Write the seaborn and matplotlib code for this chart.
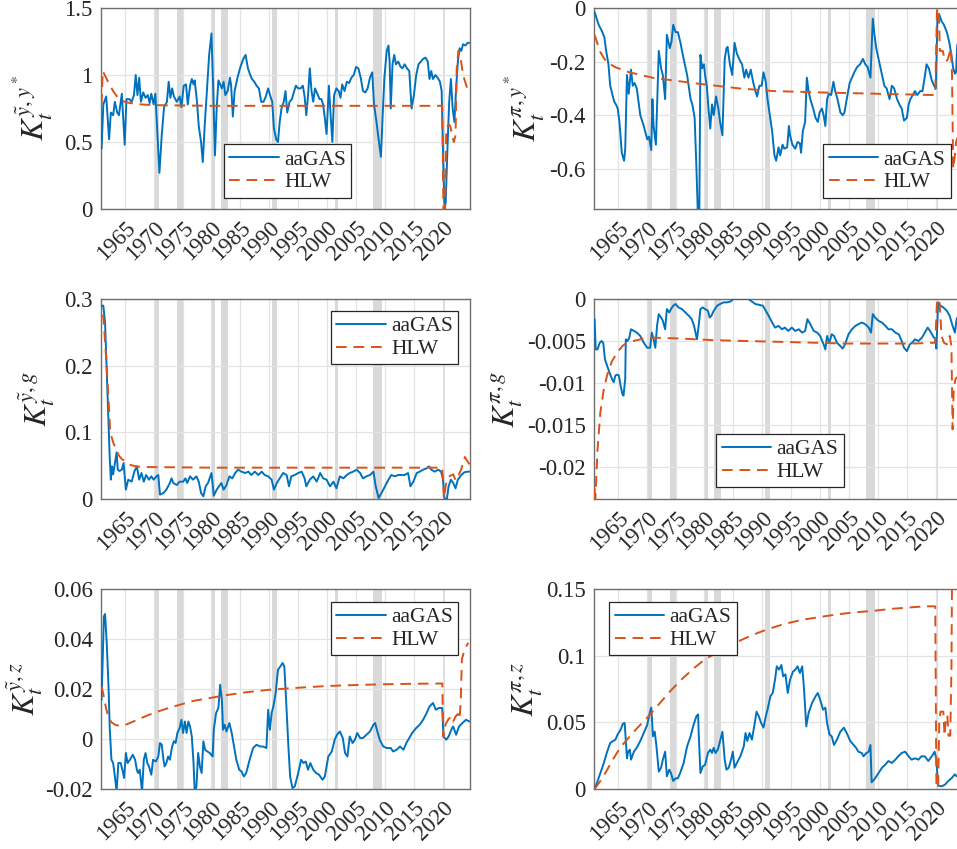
import numpy as np
import pandas as pd
import matplotlib
matplotlib.use("Agg")
import matplotlib.pyplot as plt
import seaborn as sns
from matplotlib.ticker import FuncFormatter

# ---------------- data ----------------
# Panel 1: K^{ytilde, y*}
p1_gas_x = [1961.0,1961.3,1961.8,1962.3,1962.6,1963.0,1963.3,1963.7,1964.0,1964.5,1965.0,1965.3,1965.8,1966.2,1966.6,1966.9,1967.2,1967.5,1967.8,1968.2,1968.6,1969.0,1969.3,1969.6,1970.0,1970.3,1970.6,1971.0,1971.4,1971.8,1972.3,1972.6,1972.9,1973.2,1973.5,1974.0,1974.5,1974.8,1975.2,1975.6,1975.9,1976.3,1976.6,1976.9,1977.1,1977.5,1977.8,1978.2,1978.5,1978.8,1979.2,1979.6,1980.0,1980.3,1980.6,1980.9,1981.2,1981.5,1981.8,1982.1,1982.4,1982.8,1983.2,1983.4,1983.7,1984.0,1984.5,1985.0,1985.5,1985.9,1986.3,1986.7,1987.0,1987.4,1987.8,1988.2,1988.6,1989.0,1989.4,1989.8,1990.2,1990.5,1990.8,1991.2,1991.5,1991.8,1992.1,1992.5,1992.8,1993.1,1993.5,1993.9,1994.3,1994.6,1995.0,1995.4,1995.8,1996.1,1996.4,1996.7,1997.0,1997.3,1997.6,1997.9,1998.3,1998.7,1999.0,1999.3,1999.6,1999.9,2000.3,2000.6,2000.9,2001.2,2001.6,2002.0,2002.3,2002.6,2003.0,2003.4,2003.8,2004.2,2004.6,2005.0,2005.4,2005.8,2006.2,2006.6,2007.0,2007.4,2007.8,2008.1,2008.5,2008.9,2009.3,2009.6,2009.9,2010.3,2010.6,2010.8,2011.0,2011.3,2011.6,2011.9,2012.3,2012.7,2013.0,2013.4,2013.8,2014.2,2014.6,2015.0,2015.4,2015.8,2016.2,2016.6,2017.0,2017.4,2017.7,2018.0,2018.3,2018.7,2019.1,2019.5,2019.8,2020.1,2020.3,2020.5,2020.8,2021.1,2021.4,2021.7,2022.0,2022.3,2022.6,2022.9,2023.2,2023.5,2023.9,2024.3,2024.6]
p1_gas_y = [0.45,0.78,0.84,0.52,0.72,0.70,0.80,0.72,0.70,0.86,0.48,0.82,0.82,0.80,0.85,1.00,0.85,0.98,0.80,0.87,0.83,0.85,0.79,0.86,0.78,0.86,0.60,0.27,0.55,0.76,0.80,0.95,0.83,0.90,0.84,0.80,0.84,0.76,0.92,0.93,0.78,0.92,0.97,0.93,0.96,0.80,0.62,0.50,0.35,0.60,0.88,1.15,1.31,0.90,0.40,0.75,0.96,0.93,0.90,0.95,0.85,0.88,0.98,0.92,0.69,0.88,0.98,1.06,1.12,1.15,1.05,1.00,0.97,0.95,0.92,0.90,0.80,0.80,0.84,0.90,0.84,0.80,0.60,0.52,0.50,0.65,0.75,0.80,0.88,0.72,0.80,0.82,0.88,0.92,0.90,0.90,0.92,0.84,0.70,0.85,1.05,0.88,0.80,0.90,0.86,0.82,0.82,0.78,0.68,0.56,0.92,0.70,0.50,0.85,0.90,0.88,0.83,0.93,0.88,0.95,0.94,0.98,1.00,1.06,1.05,0.98,0.88,0.87,0.90,0.98,1.02,0.78,0.66,0.52,0.39,0.70,0.98,1.18,1.22,1.10,0.75,1.08,1.15,1.08,1.10,1.06,1.05,1.08,1.05,1.03,0.75,0.85,1.00,1.08,1.10,1.12,1.13,1.10,0.97,1.03,0.97,1.00,0.98,0.95,0.88,0.30,0.0,0.05,0.45,0.80,0.97,0.75,0.65,0.90,1.10,1.20,1.18,1.23,1.22,1.24,1.24]
p1_hlw_x = [1961.0,1961.2,1962.0,1963.0,1964.0,1965.0,1966.0,1967.0,1968.0,1970.0,1980.0,1990.0,2000.0,2010.0,2019.9,2020.1,2020.4,2020.6,2021.0,2021.3,2021.6,2021.9,2022.2,2022.4,2022.7,2023.0,2023.5,2024.0,2024.6]
p1_hlw_y = [0.78,1.03,0.96,0.88,0.82,0.80,0.79,0.785,0.78,0.775,0.77,0.77,0.77,0.77,0.77,0.0,0.0,0.60,0.63,0.62,0.55,0.50,0.55,1.05,1.18,1.15,1.00,0.93,0.86]

# Panel 2: K^{pi, y*}
p2_gas_x = [1961.0,1961.7,1962.3,1962.7,1963.0,1963.4,1963.7,1964.1,1964.4,1964.7,1965.0,1965.3,1965.7,1966.1,1966.3,1966.6,1966.9,1967.3,1967.6,1967.9,1968.3,1968.9,1969.5,1970.1,1970.4,1970.8,1971.0,1971.2,1971.6,1972.1,1972.5,1972.8,1973.2,1973.5,1974.0,1974.3,1974.6,1975.0,1975.4,1975.8,1976.4,1977.0,1977.6,1977.9,1978.3,1978.6,1978.9,1979.1,1979.3,1979.6,1979.9,1980.1,1980.4,1980.7,1981.0,1981.3,1981.6,1982.0,1982.4,1982.7,1983.1,1983.5,1983.8,1984.0,1984.4,1984.8,1985.2,1985.6,1986.1,1986.5,1986.9,1987.2,1987.6,1988.0,1988.4,1988.8,1989.1,1989.5,1989.9,1990.2,1990.6,1990.9,1991.3,1991.7,1992.1,1992.4,1992.8,1993.1,1993.5,1993.8,1994.3,1994.6,1994.8,1995.2,1995.7,1996.1,1996.5,1996.7,1997.0,1997.4,1997.7,1998.0,1998.3,1998.8,1999.2,1999.6,1999.9,2000.3,2000.6,2000.9,2001.2,2001.5,2001.9,2002.3,2002.6,2003.0,2003.5,2003.9,2004.2,2004.6,2005.1,2005.5,2005.9,2006.4,2006.9,2007.4,2007.8,2008.2,2008.7,2009.1,2009.4,2009.7,2010.1,2010.6,2011.1,2011.5,2012.0,2012.4,2012.8,2013.3,2013.7,2014.1,2014.5,2015.0,2015.3,2015.6,2016.0,2016.4,2016.8,2017.3,2017.7,2018.1,2018.4,2018.8,2019.3,2019.7,2020.0,2020.3,2020.6,2021.0,2021.4,2021.9,2022.3,2022.7,2023.0,2023.3,2023.5,2023.7,2024.3]
p2_gas_y = [-0.015,-0.0625,-0.0875,-0.11,-0.16,-0.21,-0.29,-0.325,-0.35,-0.36,-0.375,-0.425,-0.54,-0.57,-0.525,-0.25,-0.32,-0.23,-0.29,-0.28,-0.30,-0.40,-0.44,-0.49,-0.48,-0.53,-0.34,-0.44,-0.51,-0.16,-0.225,-0.25,-0.34,-0.10,-0.15,-0.125,-0.0625,-0.09,-0.09,-0.125,-0.19,-0.25,-0.34,-0.36,-0.41,-0.59,-0.80,-0.80,-0.175,-0.225,-0.21,-0.25,-0.29,-0.375,-0.45,-0.36,-0.40,-0.33,-0.375,-0.425,-0.475,-0.19,-0.15,-0.145,-0.21,-0.25,-0.13,-0.17,-0.195,-0.21,-0.26,-0.23,-0.26,-0.23,-0.275,-0.31,-0.33,-0.29,-0.29,-0.24,-0.275,-0.34,-0.40,-0.46,-0.55,-0.57,-0.52,-0.55,-0.51,-0.525,-0.52,-0.44,-0.475,-0.51,-0.525,-0.50,-0.505,-0.54,-0.46,-0.425,-0.26,-0.31,-0.34,-0.375,-0.41,-0.425,-0.39,-0.375,-0.40,-0.44,-0.34,-0.32,-0.325,-0.275,-0.31,-0.34,-0.39,-0.40,-0.39,-0.34,-0.28,-0.26,-0.24,-0.22,-0.21,-0.19,-0.21,-0.22,-0.26,-0.04,-0.10,-0.15,-0.19,-0.24,-0.29,-0.30,-0.34,-0.29,-0.30,-0.34,-0.36,-0.375,-0.42,-0.41,-0.36,-0.34,-0.325,-0.31,-0.325,-0.31,-0.31,-0.255,-0.21,-0.225,-0.27,-0.29,-0.30,-0.025,-0.025,-0.05,-0.0625,-0.09,-0.125,-0.175,-0.225,-0.245,-0.24,-0.14,-0.10]
p2_hlw_x = [1961.0,1962.0,1963.0,1964.5,1967.0,1971.0,1978.0,1986.0,1992.0,2000.0,2010.0,2019.9,2020.2,2020.5,2020.7,2021.2,2021.5,2021.8,2022.1,2022.6,2022.8,2023.0,2023.3,2023.5,2024.3]
p2_hlw_y = [-0.10,-0.165,-0.20,-0.22,-0.24,-0.26,-0.28,-0.30,-0.31,-0.315,-0.32,-0.325,-0.01,0.0,-0.16,-0.16,-0.19,-0.20,-0.19,-0.15,-0.25,-0.60,-0.55,-0.50,-0.45]

# Panel 3: K^{ytilde, g}
p3_gas_x = [1961.0,1961.3,1961.6,1961.8,1962.1,1962.4,1962.6,1962.8,1963.0,1963.3,1963.6,1963.8,1964.1,1964.5,1964.8,1965.2,1965.6,1966.2,1966.7,1967.1,1967.5,1967.9,1968.3,1968.7,1969.2,1969.6,1970.0,1970.5,1970.8,1971.1,1971.7,1972.2,1972.8,1973.1,1973.4,1974.0,1974.5,1975.1,1975.5,1975.8,1976.3,1976.8,1977.4,1977.8,1978.2,1978.6,1979.0,1979.4,1980.0,1980.4,1980.9,1981.3,1981.7,1982.1,1982.6,1983.1,1983.6,1984.1,1984.6,1985.2,1985.8,1986.4,1986.9,1987.5,1988.1,1988.7,1989.2,1989.8,1990.4,1990.8,1991.3,1991.8,1992.4,1993.0,1993.4,1993.8,1994.4,1995.0,1995.6,1996.1,1996.4,1997.0,1997.6,1998.2,1998.8,1999.3,1999.9,2000.5,2001.1,2001.6,2002.2,2002.8,2003.4,2003.9,2004.5,2005.1,2005.7,2006.2,2006.8,2007.4,2008.0,2008.4,2008.9,2009.4,2010.0,2010.6,2011.1,2011.7,2012.3,2012.9,2013.4,2014.0,2014.4,2014.9,2015.5,2016.0,2016.6,2017.2,2017.6,2018.0,2018.6,2019.2,2019.7,2020.0,2020.3,2020.7,2021.0,2021.4,2021.8,2022.2,2022.6,2023.2,2023.7,2024.3,2024.6]
p3_gas_y = [0.29,0.29,0.265,0.214,0.14,0.064,0.029,0.049,0.037,0.054,0.07,0.044,0.042,0.044,0.054,0.014,0.029,0.026,0.042,0.049,0.029,0.039,0.026,0.036,0.029,0.034,0.029,0.034,0.036,0.0065,0.009,0.014,0.024,0.031,0.024,0.021,0.026,0.026,0.031,0.024,0.034,0.029,0.034,0.026,0.009,0.004,0.019,0.024,0.039,0.005,0.014,0.019,0.024,0.014,0.021,0.034,0.031,0.039,0.044,0.041,0.039,0.041,0.036,0.041,0.036,0.041,0.036,0.034,0.029,0.014,0.024,0.031,0.039,0.036,0.019,0.034,0.036,0.039,0.041,0.031,0.019,0.029,0.034,0.026,0.039,0.031,0.029,0.019,0.026,0.016,0.034,0.031,0.036,0.039,0.041,0.044,0.039,0.031,0.034,0.036,0.041,0.019,0.0015,0.009,0.019,0.029,0.036,0.034,0.036,0.036,0.036,0.039,0.019,0.026,0.039,0.041,0.044,0.046,0.049,0.044,0.041,0.044,0.041,0.031,0.0,0.0,0.019,0.029,0.024,0.016,0.029,0.036,0.040,0.041,0.041]
p3_hlw_x = [1961.0,1961.3,1961.8,1962.2,1962.5,1963.0,1963.5,1964.0,1964.5,1965.0,1966.0,1967.0,1968.0,1980.0,2000.0,2019.9,2020.2,2020.5,2020.8,2021.3,2021.8,2022.2,2022.6,2023.2,2023.8,2024.6]
p3_hlw_y = [0.275,0.275,0.21,0.15,0.10,0.085,0.075,0.065,0.06,0.057,0.051,0.049,0.048,0.047,0.047,0.047,0.0,0.02,0.031,0.035,0.037,0.028,0.033,0.045,0.063,0.052]

# Panel 4: K^{pi, g}
p4_gas_x = [1961.0,1961.2,1961.5,1961.9,1962.2,1962.5,1962.8,1963.2,1963.6,1964.0,1964.3,1964.6,1964.9,1965.2,1965.5,1965.8,1966.0,1966.3,1966.4,1966.7,1967.0,1967.3,1967.8,1968.3,1968.9,1969.5,1970.1,1970.6,1970.9,1971.2,1971.5,1971.8,1972.1,1972.5,1972.8,1973.2,1973.5,1973.9,1974.2,1974.6,1975.0,1975.5,1976.1,1976.7,1977.3,1977.8,1978.2,1978.7,1979.0,1979.3,1979.7,1980.1,1980.6,1980.9,1981.2,1981.6,1982.2,1982.7,1983.3,1983.9,1984.5,1985.0,1985.6,1986.8,1987.6,1988.2,1988.8,1989.5,1990.1,1990.6,1991.1,1991.7,1992.2,1992.8,1993.4,1993.9,1994.5,1995.1,1995.7,1996.3,1996.9,1997.4,1997.8,1998.3,1998.9,1999.5,2000.0,2000.6,2000.9,2001.2,2001.6,2002.0,2002.4,2002.9,2003.5,2003.9,2004.3,2004.9,2005.5,2006.1,2006.6,2007.2,2007.8,2008.4,2008.8,2009.1,2009.5,2010.1,2010.7,2011.3,2011.8,2012.4,2013.0,2013.6,2014.1,2014.5,2015.0,2015.5,2015.9,2016.4,2017.0,2017.6,2018.1,2018.6,2019.0,2019.5,2019.9,2020.1,2020.4,2020.8,2021.3,2021.9,2022.4,2022.9,2023.3,2023.6,2024.3]
p4_gas_y = [-0.0024,-0.006,-0.006,-0.0052,-0.005,-0.0052,-0.0072,-0.008,-0.0088,-0.0095,-0.0099,-0.0091,-0.009,-0.0091,-0.0103,-0.0113,-0.0115,-0.0095,-0.0048,-0.005,-0.0046,-0.0036,-0.0038,-0.004,-0.0044,-0.0052,-0.0058,-0.0058,-0.004,-0.0048,-0.0058,-0.0032,-0.0018,-0.0022,-0.0026,-0.0036,-0.0012,-0.0016,-0.0012,-0.0008,-0.0006,-0.001,-0.0012,-0.0016,-0.002,-0.0024,-0.0032,-0.0048,-0.0032,-0.0012,-0.001,-0.0012,-0.0014,-0.0022,-0.002,-0.0014,-0.0008,-0.0006,-0.0004,-0.0004,-0.0003,0.0,0.0,0.0,0.0,-0.0003,-0.0006,-0.0007,-0.0008,-0.0014,-0.002,-0.0028,-0.0034,-0.0032,-0.0036,-0.0034,-0.0038,-0.0034,-0.0038,-0.0036,-0.004,-0.0038,-0.0024,-0.003,-0.0038,-0.004,-0.0044,-0.0054,-0.006,-0.0044,-0.0052,-0.0042,-0.0044,-0.0052,-0.0056,-0.0059,-0.0054,-0.0042,-0.0036,-0.0032,-0.003,-0.0028,-0.003,-0.0034,-0.004,-0.0018,-0.0022,-0.0026,-0.0028,-0.0032,-0.0036,-0.0036,-0.004,-0.0042,-0.005,-0.0058,-0.0062,-0.0054,-0.0052,-0.0048,-0.005,-0.0046,-0.004,-0.0034,-0.0038,-0.0044,-0.0048,-0.0059,-0.0004,-0.0008,-0.001,-0.0014,-0.002,-0.0032,-0.004,-0.0024,-0.0015]
p4_hlw_x = [1961.0,1961.1,1961.5,1962.0,1962.6,1963.2,1964.0,1964.9,1965.8,1966.6,1967.7,1969.5,1971.2,1975.8,1981.6,1987.3,1993.1,1998.8,2004.6,2010.4,2016.1,2019.9,2020.2,2020.6,2021.0,2021.4,2021.9,2022.1,2022.4,2022.7,2022.9,2023.1,2023.4,2024.3]
p4_hlw_y = [-0.0225,-0.0245,-0.018,-0.0135,-0.0107,-0.009,-0.0074,-0.0064,-0.0056,-0.0052,-0.005,-0.0047,-0.0046,-0.0047,-0.0049,-0.005,-0.0051,-0.0052,-0.0053,-0.0053,-0.0053,-0.0052,-0.0004,0.0,-0.0044,-0.0052,-0.0054,-0.0048,-0.0044,-0.0056,-0.0155,-0.0107,-0.0095,-0.009]

# Panel 5: K^{ytilde, z}
p5_gas_x = [1961.0,1961.2,1961.4,1961.6,1961.9,1962.2,1962.4,1962.7,1963.0,1963.3,1963.6,1963.9,1964.3,1964.6,1964.9,1965.2,1965.5,1965.9,1966.4,1966.8,1967.1,1967.3,1967.6,1968.0,1968.3,1968.6,1968.9,1969.2,1969.6,1969.9,1970.4,1970.8,1971.1,1971.4,1971.7,1971.9,1972.2,1972.5,1972.8,1973.2,1973.5,1973.8,1974.1,1974.5,1974.8,1975.1,1975.4,1975.7,1976.0,1976.3,1976.6,1976.9,1977.1,1977.4,1977.7,1978.0,1978.3,1978.6,1978.9,1979.3,1979.7,1980.2,1980.4,1980.8,1981.2,1981.5,1981.8,1982.0,1982.3,1982.6,1983.1,1983.5,1983.9,1984.3,1984.8,1985.2,1985.6,1986.0,1986.6,1987.2,1987.8,1988.4,1988.9,1989.5,1989.8,1990.1,1990.4,1990.7,1991.1,1991.5,1991.9,1992.3,1992.6,1992.9,1993.3,1993.6,1994.0,1994.4,1995.0,1995.5,1995.9,1996.3,1996.7,1997.1,1997.6,1998.1,1998.6,1999.2,1999.6,2000.2,2000.8,2001.3,2001.7,2002.2,2002.7,2003.1,2003.5,2003.9,2004.4,2004.8,2005.2,2005.7,2006.2,2006.8,2007.4,2008.0,2008.3,2008.6,2009.1,2009.7,2010.3,2011.0,2011.4,2012.0,2012.6,2013.2,2013.7,2014.2,2014.7,2015.4,2016.0,2016.6,2017.2,2017.7,2018.3,2018.8,2019.3,2019.9,2020.1,2020.6,2021.0,2021.6,2021.8,2022.3,2022.8,2023.4,2024.0,2024.6]
p5_gas_y = [0.0157,0.032,0.049,0.050,0.038,0.021,0.005,-0.0083,-0.0096,-0.015,-0.021,-0.0096,-0.0096,-0.0123,-0.0156,-0.0056,-0.0096,-0.0083,-0.0063,-0.0083,-0.0123,-0.0136,-0.0123,-0.021,-0.0083,-0.0056,-0.0096,-0.011,-0.0143,-0.0083,-0.009,-0.007,-0.0016,-0.0023,-0.0083,-0.011,-0.0096,-0.007,-0.0083,-0.003,-0.0009,-0.0016,0.0024,0.0044,0.0077,0.0024,0.007,0.0024,0.007,0.005,0.001,-0.0096,-0.021,-0.019,-0.0056,-0.011,-0.0136,-0.0009,-0.0043,-0.005,-0.0056,-0.007,0.0037,0.0104,0.0124,0.0217,0.0157,0.0037,0.0057,0.003,0.0064,0.0024,-0.003,-0.0083,-0.0123,-0.013,-0.015,-0.0136,-0.0083,-0.0036,-0.0023,-0.003,-0.003,-0.0036,0.0117,0.0037,0.0104,0.013,0.0184,0.0277,0.029,0.0304,0.029,0.0157,-0.003,-0.015,-0.0196,-0.019,-0.0136,-0.0083,-0.0096,-0.009,-0.0123,-0.0096,-0.0123,-0.0136,-0.0143,-0.0163,-0.015,-0.007,-0.005,-0.0003,0.0017,0.003,0.0004,-0.0056,-0.007,0.001,-0.0016,-0.0003,0.0024,0.0004,0.0004,0.0017,0.003,0.0057,0.0064,0.0037,-0.0003,-0.003,-0.0036,-0.0036,-0.005,-0.0043,-0.003,-0.0043,-0.0016,0.0004,0.0024,0.0044,0.0057,0.0077,0.0104,0.013,0.0144,0.0117,0.0124,0.0124,0.001,-0.0003,0.001,0.0044,0.005,0.0017,0.005,0.0064,0.0077,0.007]
p5_hlw_x = [1961.0,1961.3,1961.8,1962.3,1962.8,1963.5,1964.5,1965.5,1967.0,1969.0,1971.0,1973.0,1975.0,1977.0,1980.0,1983.0,1986.0,1990.0,1995.0,2000.0,2005.0,2010.0,2015.0,2019.9,2020.1,2020.5,2021.0,2021.5,2021.8,2022.2,2022.6,2022.9,2023.1,2023.3,2023.8,2024.4]
p5_hlw_y = [0.021,0.018,0.012,0.008,0.0065,0.0055,0.0053,0.006,0.0075,0.0095,0.0112,0.0127,0.014,0.0153,0.0165,0.0177,0.0187,0.0197,0.0205,0.0212,0.0216,0.0219,0.0221,0.0222,0.001,0.006,0.008,0.009,0.007,0.009,0.010,0.008,0.015,0.032,0.036,0.0385]

# Panel 6: K^{pi, z}
p6_gas_x = [1961.0,1961.4,1962.0,1962.6,1963.1,1963.7,1964.2,1964.6,1965.0,1965.5,1965.9,1966.2,1966.4,1966.6,1966.8,1967.1,1967.3,1967.8,1968.3,1968.9,1969.5,1970.1,1970.4,1970.6,1970.8,1971.1,1971.4,1971.7,1972.1,1972.5,1972.8,1973.2,1973.5,1973.9,1974.2,1974.6,1975.0,1975.4,1975.8,1976.4,1977.0,1977.6,1978.1,1978.6,1978.9,1979.0,1979.3,1979.7,1980.1,1980.6,1981.0,1981.3,1981.6,1981.9,1982.3,1982.7,1983.1,1983.5,1983.8,1984.2,1984.6,1984.9,1985.2,1985.6,1986.2,1986.8,1987.1,1987.4,1987.8,1988.2,1988.6,1989.0,1989.4,1989.8,1990.2,1990.6,1990.9,1991.4,1991.8,1992.2,1992.5,1992.9,1993.3,1993.6,1994.0,1994.4,1994.8,1995.3,1995.7,1996.1,1996.5,1996.9,1997.2,1997.6,1998.0,1998.6,1999.2,1999.6,2000.0,2000.5,2000.9,2001.2,2001.6,2002.0,2002.4,2002.9,2003.5,2004.1,2004.6,2005.2,2005.8,2006.2,2006.6,2007.2,2007.5,2008.0,2008.4,2008.7,2008.9,2009.5,2010.1,2010.7,2011.2,2011.8,2012.4,2013.0,2013.5,2014.1,2014.7,2015.3,2015.8,2016.4,2017.0,2017.5,2018.1,2018.7,2019.3,2019.8,2020.1,2020.4,2021.0,2021.6,2022.1,2022.7,2023.3,2023.6,2024.3]
p6_gas_y = [0.0,0.0045,0.012,0.0195,0.027,0.0345,0.036,0.037,0.041,0.0445,0.049,0.0495,0.036,0.023,0.028,0.0295,0.022,0.028,0.031,0.036,0.042,0.048,0.0545,0.058,0.061,0.0395,0.043,0.032,0.013,0.016,0.022,0.028,0.0095,0.0145,0.012,0.006,0.008,0.008,0.012,0.0195,0.032,0.0395,0.048,0.0545,0.056,0.042,0.012,0.017,0.018,0.027,0.0295,0.027,0.031,0.027,0.0295,0.036,0.043,0.022,0.0145,0.016,0.022,0.028,0.016,0.0195,0.0245,0.032,0.042,0.036,0.042,0.037,0.047,0.058,0.0545,0.0495,0.046,0.0545,0.0595,0.0695,0.072,0.082,0.092,0.0895,0.093,0.0845,0.086,0.072,0.082,0.088,0.0895,0.092,0.087,0.092,0.0757,0.047,0.057,0.0645,0.0695,0.072,0.067,0.0595,0.061,0.0495,0.041,0.0395,0.033,0.037,0.043,0.046,0.042,0.036,0.033,0.031,0.028,0.027,0.0245,0.027,0.028,0.033,0.005,0.008,0.012,0.016,0.018,0.021,0.0195,0.022,0.0245,0.027,0.028,0.0245,0.022,0.023,0.022,0.0245,0.0245,0.021,0.0245,0.028,0.022,0.0025,0.002,0.0033,0.0058,0.008,0.011,0.0095,0.012]
p6_hlw_x = [1961.0,1962.0,1963.0,1964.0,1965.0,1966.0,1968.0,1970.0,1972.0,1974.0,1976.0,1978.0,1980.0,1982.0,1985.0,1988.0,1991.0,1994.0,1997.0,2000.0,2003.0,2006.0,2009.0,2012.0,2015.0,2018.0,2019.9,2020.1,2020.4,2020.6,2020.8,2021.3,2021.5,2021.8,2022.0,2022.2,2022.5,2022.7,2022.8,2024.3]
p6_hlw_y = [0.0,0.006,0.013,0.021,0.028,0.034,0.044,0.053,0.063,0.073,0.082,0.090,0.097,0.102,0.109,0.115,0.120,0.124,0.127,0.129,0.131,0.1325,0.1335,0.135,0.136,0.137,0.137,0.001,0.0015,0.050,0.058,0.058,0.040,0.055,0.055,0.040,0.040,0.090,0.155,0.16]

panels = [
    (p1_gas_x, p1_gas_y, p1_hlw_x, p1_hlw_y, r'$K_t^{\tilde{y},y^*}$', (0, 1.5), [0, 0.5, 1, 1.5]),
    (p2_gas_x, p2_gas_y, p2_hlw_x, p2_hlw_y, r'$K_t^{\pi,y^*}$', (-0.75, 0), [-0.6, -0.4, -0.2, 0]),
    (p3_gas_x, p3_gas_y, p3_hlw_x, p3_hlw_y, r'$K_t^{\tilde{y},g}$', (0, 0.3), [0, 0.1, 0.2, 0.3]),
    (p4_gas_x, p4_gas_y, p4_hlw_x, p4_hlw_y, r'$K_t^{\pi,g}$', (-0.0238, 0), [-0.02, -0.015, -0.01, -0.005, 0]),
    (p5_gas_x, p5_gas_y, p5_hlw_x, p5_hlw_y, r'$K_t^{\tilde{y},z}$', (-0.02, 0.06), [-0.02, 0, 0.02, 0.04, 0.06]),
    (p6_gas_x, p6_gas_y, p6_hlw_x, p6_hlw_y, r'$K_t^{\pi,z}$', (0, 0.15), [0, 0.05, 0.1, 0.15]),
]
legend_anchor = [(0.333, 0.323), (0.621, 0.323), (0.623, 0.94), (0.331, 0.325), (0.623, 0.935), (0.041, 0.935)]
ylabel_x = [-0.125, -0.127, -0.119, -0.187, -0.152, -0.133]

recessions = [(1970.0, 1971.0), (1974.0, 1975.2), (1980.1, 1980.6), (1981.6, 1982.9),
              (1990.55, 1991.25), (2001.3, 2001.9), (2008.0, 2009.5), (2019.95, 2020.35)]
xticks = list(range(1965, 2025, 5))

# ---------------- styling ----------------
sns.set_theme(style="white")
plt.rcParams['font.family'] = 'serif'
plt.rcParams['font.serif'] = ['Liberation Serif', 'DejaVu Serif']
plt.rcParams['mathtext.fontset'] = 'stix'
plt.rcParams['axes.unicode_minus'] = False

BLUE = '#0072BD'
ORANGE = '#D95319'
SERIF = 'Liberation Serif'
DASH = (5.5, 3.5)

W, H = 957, 849
fig = plt.figure(figsize=(W / 100, H / 100), dpi=100)

col_left = [101, 594]
ax_w = 369
row_top = [8, 299, 589]
ax_h = [201, 200, 200]

fmt = FuncFormatter(lambda v, p: ('%g' % round(v, 6)))

for i, (gx, gy, hx, hy, ylab, ylim, yt) in enumerate(panels):
    r, c = divmod(i, 2)
    left = col_left[c] / W
    bottom = 1 - (row_top[r] + ax_h[r]) / H
    ax = fig.add_axes([left, bottom, ax_w / W, ax_h[r] / H])

    for (a, b) in recessions:
        ax.axvspan(a, b, color='#d9d9d9', lw=0, zorder=0)

    sns.lineplot(x=gx, y=gy, ax=ax, color=BLUE, lw=1.4, label='aaGAS',
                 estimator=None, sort=False, zorder=3)
    sns.lineplot(x=hx, y=hy, ax=ax, color=ORANGE, lw=1.4, label='HLW',
                 estimator=None, sort=False, zorder=3)
    ax.lines[-1].set_dashes(DASH)

    ax.set_xlim(1960.9, 2024.7)
    ax.set_ylim(*ylim)
    ax.set_xticks(xticks)
    ax.set_yticks(yt)
    ax.yaxis.set_major_formatter(fmt)
    ax.grid(True, color='#e3e3e3', lw=0.9, zorder=1)
    ax.set_axisbelow(True)
    ax.tick_params(axis='both', labelsize=16.5, direction='in', length=3,
                   color='#555555', labelcolor='#262626', pad=6)
    for lab in ax.get_xticklabels() + ax.get_yticklabels():
        lab.set_fontfamily(SERIF)
    for lab in ax.get_xticklabels():
        lab.set_rotation(45)
        lab.set_ha('right')
        lab.set_rotation_mode('anchor')
    for s in ax.spines.values():
        s.set_color('#6e6e6e')
        s.set_linewidth(1.0)
    ax.set_xlabel('')
    ax.set_ylabel(ylab, fontsize=23, color='#262626')
    ax.yaxis.set_label_coords(ylabel_x[i], 0.5)

    leg = ax.legend(loc='upper left', bbox_to_anchor=legend_anchor[i], borderaxespad=0,
                    prop={'family': SERIF, 'size': 15.5}, frameon=True, fancybox=False,
                    handlelength=2.3, handletextpad=0.25, borderpad=0.25, labelspacing=0.12)
    leg.get_frame().set_edgecolor('#262626')
    leg.get_frame().set_linewidth(0.9)
    leg.get_frame().set_alpha(1)
    leg.get_lines()[1].set_dashes(DASH)

fig.savefig('out.png', dpi=100)
